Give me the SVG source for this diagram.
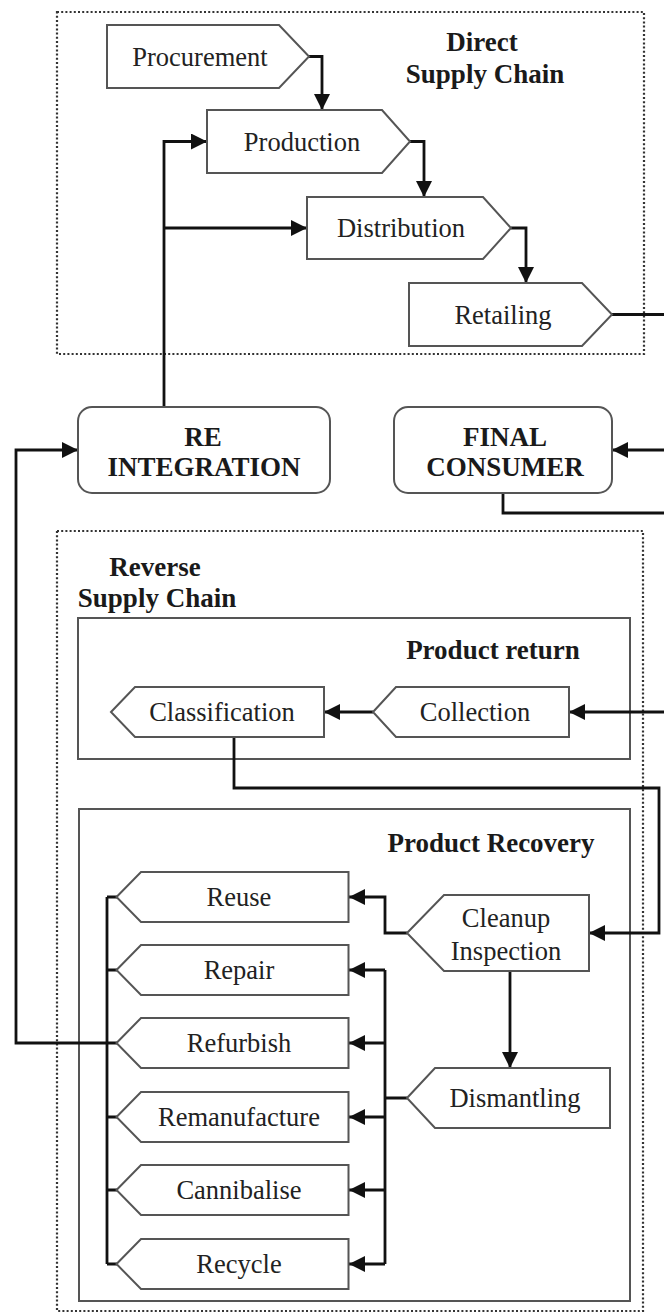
<svg xmlns="http://www.w3.org/2000/svg" width="664" height="1313" viewBox="0 0 664 1313">
<defs>
<marker id="ah" markerUnits="userSpaceOnUse" markerWidth="18" markerHeight="18" refX="16" refY="8" orient="auto">
<path d="M0,0 L16,8 L0,16 z" fill="#111"/>
</marker>
</defs>
<style>
.dot{fill:none;stroke:#333;stroke-width:2.2;stroke-dasharray:2 2.2}
.grp{fill:none;stroke:#555;stroke-width:2}
.box{fill:#fff;stroke:#555;stroke-width:2}
.t{font-family:"Liberation Serif","Times New Roman",serif;font-size:26.5px;fill:#222;text-anchor:middle}
.b{font-family:"Liberation Serif","Times New Roman",serif;font-size:27px;font-weight:bold;fill:#1a1a1a;text-anchor:middle}
.c{fill:none;stroke:#111;stroke-width:2.8}
.a{marker-end:url(#ah)}
</style>
<rect width="664" height="1313" fill="#fff"/>
<g id="direct-chain">
<rect class="dot" x="57" y="12" width="587" height="342"/>
<text class="b" x="482" y="51">Direct</text>
<text class="b" x="485" y="83">Supply Chain</text>
</g>
<g id="reverse-chain">
<rect class="dot" x="57" y="531" width="586" height="780"/>
<text class="b" x="155" y="576">Reverse</text>
<text class="b" x="157" y="607">Supply Chain</text>
</g>
<g id="product-return">
<rect class="grp" x="78" y="618" width="552" height="141"/>
<text class="b" x="493" y="659">Product return</text>
</g>
<g id="product-recovery">
<rect class="grp" x="79" y="809" width="551" height="492"/>
<text class="b" x="491" y="852">Product Recovery</text>
</g>
<g id="connectors">
<path class="c a" d="M309,56.5 H322 V110"/>
<path class="c a" d="M410,141.5 H424 V197"/>
<path class="c a" d="M511,228 H526 V283"/>
<path class="c a" d="M612,314.5 H672 V450 H612"/>
<path class="c a" d="M503,494 V513 H672 V712 H569"/>
<path class="c a" d="M164,407 V141.5 H207"/>
<path class="c a" d="M164,228 H307"/>
<path class="c a" d="M117,1043 H16 V450 H78"/>
<path class="c a" d="M373,712 H324"/>
<path class="c a" d="M234,737 V788 H659 V933 H589"/>
<path class="c a" d="M407,933 H385 V897 H349"/>
<path class="c a" d="M510,971 V1068"/>
<path class="c" d="M407,1098 H385 M385,970 V1264"/>
<path class="c a" d="M385,970 H349"/>
<path class="c a" d="M385,1043 H349"/>
<path class="c a" d="M385,1117 H349"/>
<path class="c a" d="M385,1190 H349"/>
<path class="c a" d="M385,1264 H349"/>
<path class="c" d="M107,897 V1264 M107,897 H117 M107,970 H117 M107,1117 H117 M107,1190 H117 M107,1264 H117"/>
</g>
<g id="procurement">
<polygon class="box" points="107,25 279,25 309,56.5 279,88 107,88"/>
<text class="t" x="200" y="65.5">Procurement</text>
</g>
<g id="production">
<polygon class="box" points="207,110 382,110 410,141.5 382,173 207,173"/>
<text class="t" x="302" y="150.5">Production</text>
</g>
<g id="distribution">
<polygon class="box" points="307,197 483,197 511,228 483,259 307,259"/>
<text class="t" x="401" y="237">Distribution</text>
</g>
<g id="retailing">
<polygon class="box" points="409,283 582,283 612,314.5 582,346 409,346"/>
<text class="t" x="503" y="323.5">Retailing</text>
</g>
<g id="re-integration">
<rect class="box" x="78" y="407" width="252" height="86" rx="14"/>
<text class="b" x="203" y="446">RE</text>
<text class="b" x="204" y="476">INTEGRATION</text>
</g>
<g id="final-consumer">
<rect class="box" x="394" y="407" width="218" height="86" rx="14"/>
<text class="b" x="505" y="446">FINAL</text>
<text class="b" x="505" y="476">CONSUMER</text>
</g>
<g id="classification">
<polygon class="box" points="111,712 135,687 324,687 324,737 135,737"/>
<text class="t" x="222" y="721">Classification</text>
</g>
<g id="collection">
<polygon class="box" points="373,712 396,687 569,687 569,737 396,737"/>
<text class="t" x="475" y="721">Collection</text>
</g>
<g id="reuse">
<polygon class="box" points="116.5,897 141,872 348.5,872 348.5,922 141,922"/>
<text class="t" x="239" y="906">Reuse</text>
</g>
<g id="repair">
<polygon class="box" points="116.5,970 141,945 348.5,945 348.5,995 141,995"/>
<text class="t" x="239" y="979">Repair</text>
</g>
<g id="refurbish">
<polygon class="box" points="116.5,1043 141,1018 348.5,1018 348.5,1068 141,1068"/>
<text class="t" x="239" y="1052">Refurbish</text>
</g>
<g id="remanufacture">
<polygon class="box" points="116.5,1117 141,1092 348.5,1092 348.5,1142 141,1142"/>
<text class="t" x="239" y="1126">Remanufacture</text>
</g>
<g id="cannibalise">
<polygon class="box" points="116.5,1190 141,1165 348.5,1165 348.5,1215 141,1215"/>
<text class="t" x="239" y="1199">Cannibalise</text>
</g>
<g id="recycle">
<polygon class="box" points="116.5,1264 141,1239 348.5,1239 348.5,1289 141,1289"/>
<text class="t" x="239" y="1273">Recycle</text>
</g>
<g id="cleanup-inspection">
<polygon class="box" points="407,933 444,895 589,895 589,971 444,971"/>
<text class="t" x="506" y="927">Cleanup</text>
<text class="t" x="506" y="960">Inspection</text>
</g>
<g id="dismantling">
<polygon class="box" points="407,1098 435,1068 610,1068 610,1128 435,1128"/>
<text class="t" x="515" y="1107">Dismantling</text>
</g>
</svg>
